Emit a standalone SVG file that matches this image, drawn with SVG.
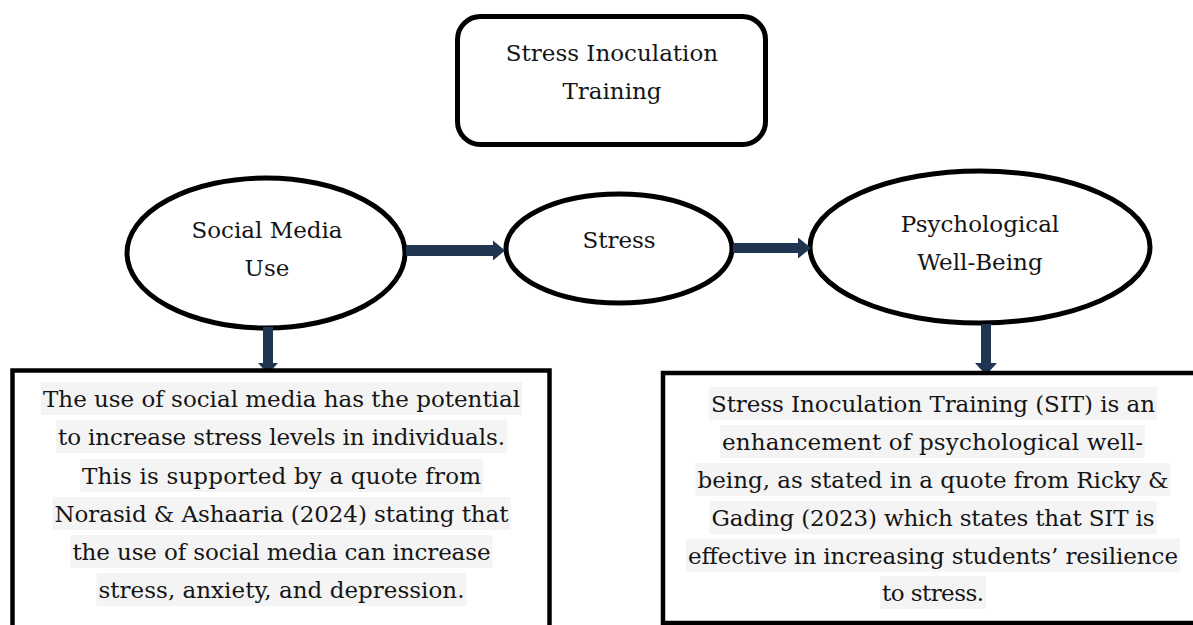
<svg xmlns="http://www.w3.org/2000/svg" width="1193" height="625" viewBox="0 0 1193 625">
<style>
.t{font-family:"DejaVu Serif","Liberation Serif",serif;font-size:23px;fill:#151515}
.c{text-anchor:middle}
.shape{fill:#fff;stroke:#000;stroke-width:5}
.box{fill:#fff;stroke:#000;stroke-width:4.5}
.hl{fill:#f4f4f4}
.arr{fill:#1f3552}
</style>
<rect width="1193" height="625" fill="#fff"/>
<g id="node-sit">
<rect class="shape" x="457.5" y="16.5" width="308" height="128" rx="23"/>
<text class="t c" x="612" y="61">Stress Inoculation</text>
<text class="t c" x="612" y="98.5">Training</text>
</g>
<g id="node-social">
<ellipse class="shape" cx="266" cy="253" rx="139" ry="75"/>
<text class="t c" x="267" y="238">Social Media</text>
<text class="t c" x="267" y="276">Use</text>
</g>
<g id="node-stress">
<ellipse class="shape" cx="619" cy="248.5" rx="113" ry="54.5"/>
<text class="t c" x="619" y="248">Stress</text>
</g>
<g id="node-pwb">
<ellipse class="shape" cx="980" cy="247" rx="170" ry="76"/>
<text class="t c" x="980" y="232">Psychological</text>
<text class="t c" x="980" y="270">Well-Being</text>
</g>
<g id="connectors">
<polygon class="arr" points="406,245 493,245 493,240.5 505,250.5 493,260.5 493,256 406,256"/>
<polygon class="arr" points="733,243 798,243 798,237.5 811,248 798,258.5 798,253 733,253"/>
<polygon class="arr" points="263,327 273,327 273,363 278,363 268,374 258,363 263,363"/>
<polygon class="arr" points="981,324 991,324 991,363 997,363 986,375 975,363 981,363"/>
</g>
<g id="node-left-box">
<rect class="box" x="12.5" y="370.5" width="537" height="300"/>
<rect class="hl" x="41" y="382" width="481" height="33"/>
<rect class="hl" x="56" y="420" width="451" height="33"/>
<rect class="hl" x="80" y="459" width="403" height="33"/>
<rect class="hl" x="52.5" y="497" width="458" height="33"/>
<rect class="hl" x="70.5" y="535" width="422" height="33"/>
<rect class="hl" x="96.5" y="573" width="370" height="33"/>
<text class="t" x="43" y="407" textLength="477" lengthAdjust="spacing">The use of social media has the potential</text>
<text class="t" x="58" y="445" textLength="447" lengthAdjust="spacing">to increase stress levels in individuals.</text>
<text class="t" x="82" y="484" textLength="399" lengthAdjust="spacing">This is supported by a quote from</text>
<text class="t" x="54.5" y="522" textLength="454" lengthAdjust="spacing">Norasid &amp; Ashaaria (2024) stating that</text>
<text class="t" x="72.5" y="560" textLength="418" lengthAdjust="spacing">the use of social media can increase</text>
<text class="t" x="98.5" y="598" textLength="366" lengthAdjust="spacing">stress, anxiety, and depression.</text>
</g>
<g id="node-right-box">
<rect class="box" x="663" y="373" width="560" height="250"/>
<rect class="hl" x="709" y="387" width="448" height="33"/>
<rect class="hl" x="720" y="425" width="425" height="33"/>
<rect class="hl" x="695.5" y="463" width="475" height="33"/>
<rect class="hl" x="709.5" y="501" width="447" height="33"/>
<rect class="hl" x="686" y="538.5" width="494" height="33"/>
<rect class="hl" x="880" y="576" width="106" height="33"/>
<text class="t" x="711" y="412" textLength="444" lengthAdjust="spacing">Stress Inoculation Training (SIT) is an</text>
<text class="t" x="722" y="450" textLength="421" lengthAdjust="spacing">enhancement of psychological well-</text>
<text class="t" x="697.5" y="488" textLength="471" lengthAdjust="spacing">being, as stated in a quote from Ricky &amp;</text>
<text class="t" x="711.5" y="526" textLength="443" lengthAdjust="spacing">Gading (2023) which states that SIT is</text>
<text class="t" x="688" y="563.5" textLength="490" lengthAdjust="spacing">effective in increasing students’ resilience</text>
<text class="t" x="882" y="601" textLength="102" lengthAdjust="spacing">to stress.</text>
</g>
</svg>
